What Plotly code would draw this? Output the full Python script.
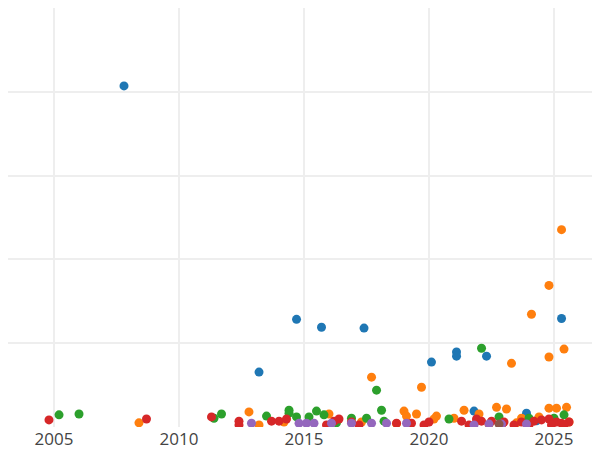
import plotly.graph_objects as go
import pandas as pd

def to_date(y):
    yr = int(y); frac = y - yr
    return pd.Timestamp(year=yr, month=1, day=1) + pd.Timedelta(days=frac * 365.25)

blue_x = [2007.8, 2014.7, 2015.7, 2017.4, 2013.2, 2020.1, 2021.1, 2021.1, 2022.3, 2025.3, 2021.8, 2023.9, 2024.3]
blue_y = [81.4, 25.7, 23.8, 23.6, 13.1, 15.5, 17.9, 16.9, 16.9, 25.9, 3.8, 3.3, 1.5]
orange_x = [2025.3, 2024.8, 2024.1, 2024.8, 2025.4, 2023.3, 2017.7, 2019.7, 2008.4, 2012.8, 2016.0, 2019.0, 2019.5,
            2020.3, 2021.4, 2022.0, 2022.7, 2023.1, 2024.8, 2025.1, 2025.5, 2021.0, 2023.7, 2019.1, 2017.3, 2020.2,
            2021.9, 2023.5, 2024.4, 2025.6, 2018.7, 2022.4, 2013.2, 2014.2]
orange_y = [47.1, 33.8, 26.9, 16.7, 18.6, 15.2, 11.9, 9.5, 1.0, 3.6, 3.1, 3.8, 3.1,
            2.6, 4.0, 3.1, 4.7, 4.3, 4.5, 4.5, 4.7, 2.1, 2.1, 2.6, 1.2, 1.9,
            1.4, 1.0, 2.4, 1.2, 0.8, 0.6, 0.5, 1.2]
green_x = [2022.1, 2017.9, 2005.2, 2006.0, 2011.4, 2011.7, 2013.5, 2014.4, 2014.7, 2015.2, 2015.5, 2015.8,
           2016.9, 2017.5, 2018.1, 2018.2, 2020.8, 2022.8, 2024.0, 2025.4, 2025.0, 2014.4, 2016.3]
green_y = [18.8, 8.8, 2.9, 3.1, 2.1, 3.1, 2.6, 4.0, 2.4, 2.4, 3.8, 2.9,
           2.1, 2.1, 4.0, 1.4, 1.9, 2.4, 2.1, 2.9, 2.1, 3.3, 1.0]
red_x = [2004.8, 2008.7, 2011.3, 2012.4, 2012.4, 2013.7, 2014.0, 2014.3, 2016.2, 2016.4, 2016.9, 2018.7,
         2019.3, 2020.0, 2021.3, 2021.9, 2022.1, 2022.5, 2023.0, 2023.7, 2024.2, 2024.5, 2024.8, 2025.1,
         2025.3, 2025.6, 2015.9, 2017.2, 2019.8, 2021.6, 2022.9, 2023.4, 2024.0, 2024.9, 2025.4]
red_y = [1.7, 1.9, 2.4, 1.4, 0.5, 1.4, 1.4, 1.9, 1.4, 1.9, 1.2, 0.9,
         0.9, 1.2, 1.4, 1.9, 1.4, 1.4, 1.2, 1.2, 1.4, 1.7, 1.9, 1.2,
         0.9, 1.2, 0.5, 0.5, 0.5, 0.5, 0.5, 0.5, 0.5, 0.5, 0.5]
purple_x = [2012.9, 2014.8, 2015.1, 2015.4, 2016.1, 2016.9, 2017.7, 2018.3, 2019.1, 2021.8, 2022.4, 2022.9, 2023.9]
purple_y = [0.9, 0.9, 0.9, 0.9, 0.9, 0.9, 0.9, 0.9, 0.9, 0.5, 0.7, 0.7, 0.7]
brown_x = [2022.8]
brown_y = [0.7]

series = [
    (blue_x, blue_y, "#1f77b4"),
    (orange_x, orange_y, "#ff7f0e"),
    (green_x, green_y, "#2ca02c"),
    (red_x, red_y, "#d62728"),
    (purple_x, purple_y, "#9467bd"),
    (brown_x, brown_y, "#8c564b"),
]

fig = go.Figure()
for xs, ys, c in series:
    fig.add_trace(go.Scatter(x=[to_date(v) for v in xs], y=ys, mode="markers",
                             marker=dict(color=c, size=9), showlegend=False))

fig.update_layout(
    width=600, height=450, margin=dict(l=0, r=0, t=0, b=31),
    plot_bgcolor="white", paper_bgcolor="white",
    font=dict(family="Open Sans", size=17, color="#444"),
    xaxis=dict(type="date", range=[to_date(2003.16), to_date(2027.16)], gridcolor="#eeeeee",
               gridwidth=2, dtick="M60", tick0="2005-01-01", tickformat="%Y", zeroline=False, showline=False),
    yaxis=dict(range=[0, 100], gridcolor="#eeeeee", gridwidth=2, dtick=20, showticklabels=False,
               zeroline=False, showline=False),
)
fig.write_html("out.html")
